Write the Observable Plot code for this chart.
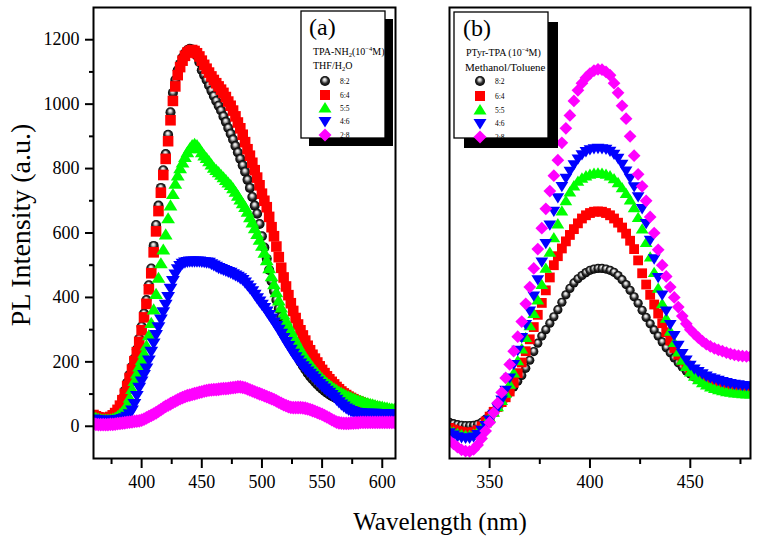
<!DOCTYPE html>
<html><head><meta charset="utf-8">
<script src="https://cdn.jsdelivr.net/npm/d3@7"></script>
<script src="https://cdn.jsdelivr.net/npm/@observablehq/plot@0.6"></script>
<style>
body{margin:0;background:#fff;}
#wrap{position:relative;width:758px;height:537px;overflow:hidden;font-family:"Liberation Serif","Times New Roman",serif;}
#wrap text, #wrap tspan{font-family:"Liberation Serif","Times New Roman",serif !important;}
</style></head><body>
<svg width="0" height="0" style="position:absolute"><defs>
<radialGradient id="sphere" cx="0.5" cy="0.5" r="0.5" fx="0.45" fy="0.32">
<stop offset="0" stop-color="#ffffff"/><stop offset="0.28" stop-color="#c8c8c8"/><stop offset="0.62" stop-color="#303030"/><stop offset="1" stop-color="#000000"/>
</radialGradient></defs></svg>
<div id="wrap"></div>
<script>
// ---------- DATA ----------
const seriesLabels = ["8:2", "6:4", "5:5", "4:6", "2:8"];
const seriesColors = ["url(#sphere)", "#ff0000", "#00ff00", "#0000ff", "#ff00ff"];

// Panel (a): TPA-NH2 in THF/H2O, wavelengths 360..610 nm every 2 nm
const wlA = d3.range(360, 611, 2);
const a82 = [30,27,24,22,21,21,22,25,30,38, 50,66,86,110,135,160,185,210,238,272, 310,350,392,438,490,560,625,685,740,795, 845,905,975,1035,1075,1105,1125,1145,1158,1167, 1172,1170,1162,1150,1130,1105,1090,1075,1058,1042, 1025,1010,995,980,962,945,926,908,890,870, 850,830,810,790,765,740,712,685,660,628, 590,555,520,485,450,420,392,365,340,318, 298,278,260,243,228,214,200,188,176,165, 155,146,138,130,123,116,110,104,99,94, 90,86,82,79,76,73,70,68,66,64, 62,60,58,57,55,54,53,52,51,50, 49,48,47,46,45,44];
const a64 = [35,31,28,26,25,25,26,29,34,41, 51,64,81,101,125,150,176,202,230,262, 298,338,380,425,475,540,605,668,725,780, 830,885,950,1010,1055,1090,1115,1135,1150,1160, 1165,1168,1165,1158,1148,1135,1122,1110,1098,1086, 1075,1065,1055,1045,1035,1022,1008,995,980,962, 943,925,905,882,860,840,818,795,772,748, 722,700,680,650,618,590,558,525,492,462, 434,407,382,358,336,316,298,282,266,250, 236,222,210,198,186,175,165,155,146,138, 130,122,115,108,102,97,92,88,84,80, 77,74,71,68,66,64,62,60,58,56, 55,53,52,50,49,48];
const a55 = [28,25,23,21,20,20,20,21,23,26, 31,38,45,54,67,88,115,140,163,185, 205,226,250,282,320,362,410,460,505,548, 595,645,685,720,752,778,800,818,835,850, 862,872,876,872,862,850,840,832,822,812, 802,795,788,780,772,764,756,748,738,727, 715,703,692,680,665,648,632,614,596,578, 560,538,515,490,465,440,415,390,368,346, 328,312,296,280,266,252,238,226,214,203, 193,183,173,164,156,148,141,134,128,122, 117,112,107,103,99,95,92,89,86,83, 80,78,76,73,71,69,67,65,63,61, 60,58,57,55,54,53];
const a46 = [22,20,19,18,18,18,18,18,18,19, 20,21,23,26,30,38,50,70,95,120, 140,160,180,205,232,258,284,308,332,355, 378,402,428,452,472,488,498,505,509,511, 512,512,512,512,512,511,510,509,508,504, 500,496,492,489,486,483,480,477,473,469, 465,460,455,447,438,429,420,409,398,388, 378,368,357,346,335,323,312,300,288,275, 262,250,238,226,215,205,196,187,179,171, 164,156,148,140,132,125,118,111,105,98, 91,83,75,68,62,56,52,48,45,43, 42,41,40,40,40,40,40,40,39,39, 39,39,39,39,39,39];
const a28 = [8,6,5,5,5,5,5,6,6,7, 8,9,10,11,12,13,14,15,16,17, 19,22,26,30,34,38,42,47,52,57, 62,66,70,74,78,82,86,89,92,95, 97,99,101,103,105,107,109,111,112,113, 114,114,115,116,117,117,118,119,120,121, 122,122,121,119,116,113,110,107,104,101, 98,95,92,89,86,83,79,75,71,67, 64,61,59,58,58,58,58,57,56,54, 52,49,46,43,40,37,33,29,25,21, 17,13,11,10,9,9,9,10,10,11, 11,12,12,12,12,12,12,12,12,12, 12,12,12,12,12,12];

// Panel (b): PTyr-TPA in Methanol/Toluene, wavelengths 330..480 nm every 2 nm
const wlB = d3.range(330, 481, 2);
const b82 = [12,8,5,3,2,2,3,6,12,22, 34,46,58,72,88,105,122,140,158,180, 205,232,258,280,300,320,340,362,385,408, 428,445,458,468,477,484,488,490,490,488, 484,478,468,455,440,422,402,382,360,338, 318,299,280,262,244,228,212,197,184,172, 162,153,146,140,135,131,128,125,123,121, 120,119,118,118,118,118];
const b64 = [-5,-10,-14,-17,-19,-20,-18,-12,0,15, 30,45,60,75,90,108,135,165,198,233, 270,308,346,383,422,462,500,528,552,574, 594,612,630,645,655,662,666,667,666,662, 655,645,632,617,598,576,550,515,475,440, 408,378,350,320,292,266,243,222,204,189, 176,165,155,147,140,134,130,126,123,121, 119,118,117,116,116,116];
const b55 = [-12,-18,-23,-27,-29,-29,-25,-17,-5,10, 26,43,60,80,102,130,165,203,240,275, 312,350,392,440,490,540,585,628,668,700, 727,746,760,770,777,782,785,786,785,782, 777,768,756,740,722,702,678,648,612,570, 525,477,428,380,335,295,260,230,205,185, 168,155,144,135,128,122,117,113,110,107, 105,103,102,101,100,100];
const b46 = [-20,-27,-32,-35,-37,-37,-33,-25,-12,3, 20,38,58,82,112,150,192,236,276,316, 358,405,455,510,568,625,668,710,745,770, 792,812,830,843,853,859,862,863,862,860, 854,845,832,814,793,770,744,713,676,630, 578,520,462,408,358,316,282,252,226,206, 190,178,170,163,156,151,147,143,139,136, 133,131,129,127,126,125];
const b28 = [-45,-55,-65,-73,-77,-78,-72,-58,-38,-15, 12,42,72,105,150,192,233,278,325,380, 432,490,550,615,675,730,778,826,880,925, 965,1010,1043,1065,1082,1095,1104,1108,1107,1100, 1090,1065,1035,995,955,900,840,782,745,700, 650,600,548,500,465,432,400,370,342,318, 300,287,275,264,255,248,242,237,233,229, 225,222,219,218,217,217];

// Ticks
const xTicksA = [400, 450, 500, 550, 600];
const xMinorA = [375, 425, 475, 525, 575];
const xTicksB = [350, 400, 450];
const xMinorB = [375, 425, 475];
const yTicks = [0, 200, 400, 600, 800, 1000, 1200];
const yMinor = [100, 300, 500, 700, 900, 1100];

// ---------- SYMBOLS ----------
const symSquare = {draw(c, size){ const s = Math.sqrt(size/Math.PI); c.rect(-s, -s, 2*s, 2*s); }};
const symTriUp = {draw(c, size){ const s = Math.sqrt(size/Math.PI); c.moveTo(0, -1.2*s); c.lineTo(1.3*s, 0.9*s); c.lineTo(-1.3*s, 0.9*s); c.closePath(); }};
const symTriDown = {draw(c, size){ const s = Math.sqrt(size/Math.PI); c.moveTo(0, 1.2*s); c.lineTo(1.3*s, -0.9*s); c.lineTo(-1.3*s, -0.9*s); c.closePath(); }};
const symDiamond = {draw(c, size){ const s = Math.sqrt(size/Math.PI)*1.3; c.moveTo(0, -s); c.lineTo(s, 0); c.lineTo(0, s); c.lineTo(-s, 0); c.closePath(); }};
const seriesSymbols = ["circle", symSquare, symTriUp, symTriDown, symDiamond];

const FONT = '"Liberation Serif", "Times New Roman", serif';
const wrap = document.getElementById("wrap");

function rows(ws, vals){ return ws.map((w, i) => ({w, v: vals[i]})); }

function seriesMarks(ws, list, r){
  return list.map((vals, k) => Plot.dot(rows(ws, vals), {
    x: "w", y: "v", r: k === 0 ? r : r + 0.3,
    symbol: seriesSymbols[k] === "circle" ? undefined : seriesSymbols[k],
    fill: seriesColors[k], stroke: "none", clip: true
  }));
}

const common = {
  height: 537, marginTop: 7, marginBottom: 79,
  style: {fontFamily: FONT, fontSize: "18px", background: "transparent", color: "black", overflow: "visible"},
  y: {domain: [-100, 1300], axis: null, label: null}
};

const left = Plot.plot({
  ...common, width: 420, marginLeft: 93, marginRight: 25,
  x: {domain: [360, 611], axis: null, label: null},
  marks: [
    ...seriesMarks(wlA, [a82, a64, a55, a46, a28], 5),
    Plot.frame({strokeWidth: 2}),
    Plot.axisX({ticks: xTicksA, tickSize: 10, tickPadding: 7, strokeWidth: 2, label: null, tickFormat: d => String(d)}),
    Plot.axisX({ticks: xMinorA, tickSize: 6, strokeWidth: 2, label: null, tickFormat: () => ""}),
    Plot.axisY({ticks: yTicks, tickSize: 8, tickPadding: 6, strokeWidth: 2, label: null, tickFormat: d => String(d)}),
    Plot.axisY({ticks: yMinor, tickSize: 4, strokeWidth: 2, label: null, tickFormat: () => ""})
  ]
});
left.style.position = "absolute"; left.style.left = "0px"; left.style.top = "0px";
wrap.appendChild(left);

const right = Plot.plot({
  ...common, width: 338, marginLeft: 29, marginRight: 8,
  x: {domain: [330, 480], axis: null, label: null},
  marks: [
    ...seriesMarks(wlB, [b82, b64, b55, b46, b28], 4.6),
    Plot.frame({strokeWidth: 2}),
    Plot.axisX({ticks: xTicksB, tickSize: 10, tickPadding: 7, strokeWidth: 2, label: null, tickFormat: d => String(d)}),
    Plot.axisX({ticks: xMinorB, tickSize: 6, strokeWidth: 2, label: null, tickFormat: () => ""})
  ]
});
right.style.position = "absolute"; right.style.left = "420px"; right.style.top = "0px";
wrap.appendChild(right);

// ---------- OVERLAY: axis titles & legends ----------
const ov = d3.select(wrap).append("svg")
  .attr("width", 758).attr("height", 537)
  .style("position", "absolute").style("left", "0px").style("top", "0px")
  .style("font-family", FONT);

ov.append("text").attr("x", 440).attr("y", 530).attr("text-anchor", "middle")
  .attr("font-size", 25).text("Wavelength (nm)");
ov.append("text").attr("transform", "translate(30,225) rotate(-90)").attr("text-anchor", "middle")
  .attr("font-size", 28).text("PL Intensity (a.u.)");

function legend(cfg){
  const g = ov.append("g");
  g.append("rect").attr("x", cfg.x + cfg.sh).attr("y", cfg.y + cfg.sh).attr("width", cfg.w).attr("height", cfg.h).attr("fill", "black");
  g.append("rect").attr("x", cfg.x).attr("y", cfg.y).attr("width", cfg.w).attr("height", cfg.h)
    .attr("fill", "white").attr("stroke", "black").attr("stroke-width", 1.3);
  g.append("text").attr("x", cfg.tx).attr("y", cfg.y + 24).attr("font-size", 24).text(cfg.tag);
  cfg.lines(g);
  cfg.rowsY.forEach((yy, k) => {
    if (k === 0) {
      g.append("circle").attr("cx", cfg.mx).attr("cy", yy).attr("r", 5).attr("fill", "url(#sphere)");
    } else {
      g.append("path").attr("transform", `translate(${cfg.mx},${yy})`)
        .attr("d", d3.symbol().type(seriesSymbols[k]).size(Math.PI * 25)()).attr("fill", seriesColors[k]);
    }
    g.append("text").attr("x", cfg.lx).attr("y", yy + 2.6).attr("font-size", 7.5).attr("fill", "black").text(seriesLabels[k]);
  });
}

legend({
  x: 301, y: 11, w: 84, h: 127, sh: 8, tag: "(a)", tx: 309, mx: 325, lx: 340,
  rowsY: [81, 95, 108, 121.5, 135],
  lines: g => {
    const t1 = g.append("text").attr("x", 313).attr("y", 55).attr("font-size", 10);
    t1.append("tspan").text("TPA-NH");
    t1.append("tspan").attr("font-size", 6.5).attr("dy", 2).text("2");
    t1.append("tspan").attr("dy", -2).text("(10");
    t1.append("tspan").attr("font-size", 6.5).attr("dy", -4).text("−4");
    t1.append("tspan").attr("dy", 4).text("M)");
    const t2 = g.append("text").attr("x", 313).attr("y", 69).attr("font-size", 10);
    t2.append("tspan").text("THF/H");
    t2.append("tspan").attr("font-size", 6.5).attr("dy", 2).text("2");
    t2.append("tspan").attr("dy", -2).text("O");
  }
});

legend({
  x: 454, y: 12, w: 94, h: 126, sh: 10, tag: "(b)", tx: 463, mx: 480, lx: 495,
  rowsY: [81, 96, 110, 123.5, 137],
  lines: g => {
    const t1 = g.append("text").attr("x", 466).attr("y", 56).attr("font-size", 10);
    t1.append("tspan").text("PTyr-TPA (10");
    t1.append("tspan").attr("font-size", 6.5).attr("dy", -4).text("−4");
    t1.append("tspan").attr("dy", 4).text("M)");
    g.append("text").attr("x", 465).attr("y", 71).attr("font-size", 11).text("Methanol/Toluene");
  }
});
</script></body></html>
